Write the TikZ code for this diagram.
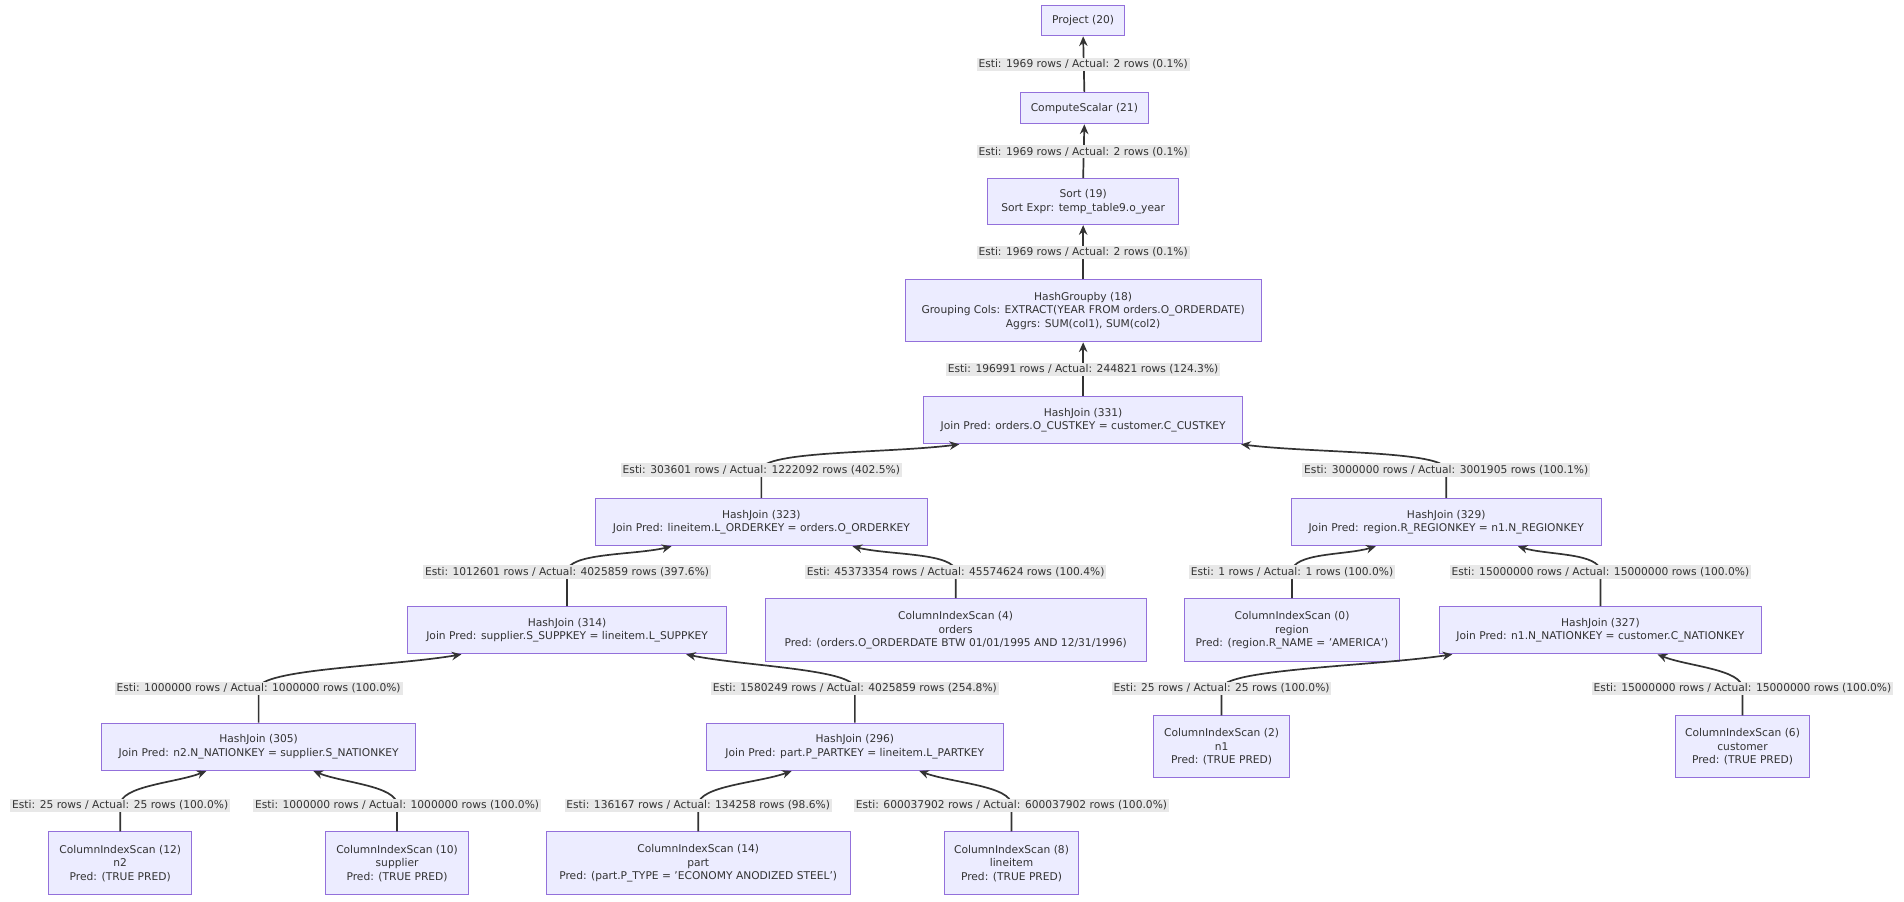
\documentclass[tikz,border=0pt]{standalone}
\usepackage{fontspec}
\setmainfont{DejaVu Sans}
\usetikzlibrary{calc,arrows.meta}
\definecolor{nfill}{HTML}{ECECFF}
\definecolor{nline}{HTML}{9370DB}
\definecolor{lbg}{HTML}{E8E8E8}
\definecolor{txt}{HTML}{333333}
\tikzset{
 box/.style={draw=nline,fill=nfill,line width=0.8pt,align=center,text=txt,font=\fontsize{8.8}{11}\selectfont,inner sep=2pt},
 lab/.style={fill=lbg,text=txt,font=\fontsize{8.8}{10}\selectfont,inner sep=1.5pt},
 arr/.style={draw=txt,line width=1.4pt,-{Stealth[length=8pt,width=7pt]}}
}
\newcommand{\vedge}[5]{% child parent lx ly label
 \draw[arr] (#1.north) -- (#2.south);
 \node[lab] (l#1) at (#3,#4) {#5};}
\newcommand{\cedge}[6]{% child parent dx lx ly label
 \coordinate (e#1) at ($(#2.south)+(#3,0)$);
 \draw[arr] (#1.north) -- (#4,#5) .. controls ($(#4,#5)+(0,-16)$) and ($(e#1)!0.35!(#4,#5)$) .. (e#1);
 \node[lab] (l#1) at (#4,#5) {#6};}
\begin{document}
\begin{tikzpicture}[x=1pt,y=-1pt]
\useasboundingbox (0,0) rectangle (1568,742);
\node[box,minimum width=68,minimum height=25] (p20) at (892,17) {Project (20)};
\node[box,minimum width=106,minimum height=26] (c21) at (893,89) {ComputeScalar (21)};
\node[box,minimum width=157,minimum height=38] (s19) at (892,166) {Sort (19)\\Sort Expr: temp\_table9.o\_year};
\node[box,minimum width=293,minimum height=51] (g18) at (892,256) {HashGroupby (18)\\Grouping Cols: EXTRACT(YEAR FROM orders.O\_ORDERDATE)\\Aggrs: SUM(col1), SUM(col2)};
\node[box,minimum width=263,minimum height=39] (h331) at (892,346) {HashJoin (331)\\Join Pred: orders.O\_CUSTKEY = customer.C\_CUSTKEY};
\node[box,minimum width=274,minimum height=39] (h323) at (627,430) {HashJoin (323)\\Join Pred: lineitem.L\_ORDERKEY = orders.O\_ORDERKEY};
\node[box,minimum width=255,minimum height=39] (h329) at (1191,430) {HashJoin (329)\\Join Pred: region.R\_REGIONKEY = n1.N\_REGIONKEY};
\node[box,minimum width=263,minimum height=39] (h314) at (467,519) {HashJoin (314)\\Join Pred: supplier.S\_SUPPKEY = lineitem.L\_SUPPKEY};
\node[box,minimum width=314,minimum height=52] (c4) at (787,519) {ColumnIndexScan (4)\\orders\\Pred: (orders.O\_ORDERDATE BTW 01/01/1995 AND 12/31/1996)};
\node[box,minimum width=177,minimum height=52] (c0) at (1064,519) {ColumnIndexScan (0)\\region\\Pred: (region.R\_NAME = 'AMERICA')};
\node[box,minimum width=265,minimum height=39] (h327) at (1318,519) {HashJoin (327)\\Join Pred: n1.N\_NATIONKEY = customer.C\_NATIONKEY};
\node[box,minimum width=259,minimum height=39] (h305) at (213,615) {HashJoin (305)\\Join Pred: n2.N\_NATIONKEY = supplier.S\_NATIONKEY};
\node[box,minimum width=244,minimum height=39] (h296) at (704,615) {HashJoin (296)\\Join Pred: part.P\_PARTKEY = lineitem.L\_PARTKEY};
\node[box,minimum width=112,minimum height=51] (c2) at (1006,615) {ColumnIndexScan (2)\\n1\\Pred: (TRUE PRED)};
\node[box,minimum width=111,minimum height=51] (c6) at (1435,615) {ColumnIndexScan (6)\\customer\\Pred: (TRUE PRED)};
\node[box,minimum width=118,minimum height=52] (c12) at (99,711) {ColumnIndexScan (12)\\n2\\Pred: (TRUE PRED)};
\node[box,minimum width=118,minimum height=52] (c10) at (327,711) {ColumnIndexScan (10)\\supplier\\Pred: (TRUE PRED)};
\node[box,minimum width=250,minimum height=52] (c14) at (575,711) {ColumnIndexScan (14)\\part\\Pred: (part.P\_TYPE = 'ECONOMY ANODIZED STEEL')};
\node[box,minimum width=111,minimum height=52] (c8) at (833,711) {ColumnIndexScan (8)\\lineitem\\Pred: (TRUE PRED)};
\vedge{c21}{p20}{892}{53}{Esti: 1969 rows / Actual: 2 rows (0.1\%)}
\vedge{s19}{c21}{892}{125}{Esti: 1969 rows / Actual: 2 rows (0.1\%)}
\vedge{g18}{s19}{892}{208}{Esti: 1969 rows / Actual: 2 rows (0.1\%)}
\vedge{h331}{g18}{892}{304}{Esti: 196991 rows / Actual: 244821 rows (124.3\%)}
\cedge{h323}{h331}{-102}{627}{387}{Esti: 303601 rows / Actual: 1222092 rows (402.5\%)}
\cedge{h329}{h331}{130}{1191}{387}{Esti: 3000000 rows / Actual: 3001905 rows (100.1\%)}
\cedge{h314}{h323}{-74}{467}{471}{Esti: 1012601 rows / Actual: 4025859 rows (397.6\%)}
\cedge{c4}{h323}{75}{787}{471}{Esti: 45373354 rows / Actual: 45574624 rows (100.4\%)}
\cedge{c0}{h329}{-58}{1064}{471}{Esti: 1 rows / Actual: 1 rows (100.0\%)}
\cedge{h327}{h329}{59}{1318}{471}{Esti: 15000000 rows / Actual: 15000000 rows (100.0\%)}
\cedge{h305}{h314}{-87}{213}{567}{Esti: 1000000 rows / Actual: 1000000 rows (100.0\%)}
\cedge{h296}{h314}{98}{704}{567}{Esti: 1580249 rows / Actual: 4025859 rows (254.8\%)}
\cedge{c2}{h327}{-122}{1006}{567}{Esti: 25 rows / Actual: 25 rows (100.0\%)}
\cedge{c6}{h327}{47}{1435}{567}{Esti: 15000000 rows / Actual: 15000000 rows (100.0\%)}
\cedge{c12}{h305}{-43}{99}{663}{Esti: 25 rows / Actual: 25 rows (100.0\%)}
\cedge{c10}{h305}{45}{327}{663}{Esti: 1000000 rows / Actual: 1000000 rows (100.0\%)}
\cedge{c14}{h296}{-52}{575}{663}{Esti: 136167 rows / Actual: 134258 rows (98.6\%)}
\cedge{c8}{h296}{53}{833}{663}{Esti: 600037902 rows / Actual: 600037902 rows (100.0\%)}
\end{tikzpicture}
\end{document}
